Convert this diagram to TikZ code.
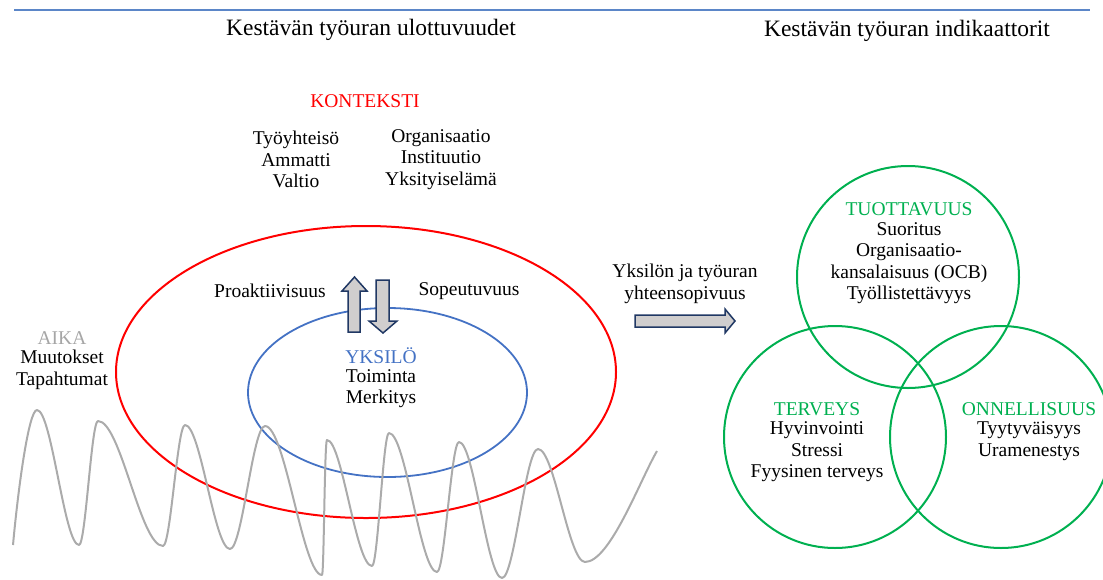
\documentclass[tikz,border=0pt]{standalone}
\usepackage{fontspec}
\setmainfont{Liberation Serif}
\definecolor{kred}{HTML}{FF0000}
\definecolor{kblue}{HTML}{4472C4}
\definecolor{kgreen}{HTML}{00B050}
\definecolor{kgray}{HTML}{ABABAB}
\definecolor{agray}{HTML}{A6A6A6}
\definecolor{afill}{HTML}{D0CECE}
\definecolor{aline}{HTML}{203864}
\definecolor{topline}{HTML}{5B86C8}
\tikzset{
  txt/.style={font=\fontsize{19.5}{21.5}\selectfont, align=center, inner sep=0pt},
  ttl/.style={font=\fontsize{23.5}{26}\selectfont, align=center, inner sep=0pt},
  blockarrow/.style={fill=afill, draw=aline, line width=1.5pt, line join=miter},
  ring/.style={line width=2pt},
}
\begin{document}
\begin{tikzpicture}[x=1pt,y=-1pt]
\useasboundingbox (0,0) rectangle (1103,579);
% top rule
\draw[topline, line width=1.2pt] (14,10) coordinate (tl) -- (1090,10) coordinate (tr);
% titles
\node[ttl] (t1) at (371,30) {Kestävän työuran ulottuvuudet};
\node[ttl] (t2) at (907,31) {Kestävän työuran indikaattorit};
% context
\node[txt, text=kred] (konteksti) at (365,101) {KONTEKSTI};
\node[txt] (ctxA) at (296,159.5) {Työyhteisö\\Ammatti\\Valtio};
\node[txt] (ctxB) at (441,159.5) {Organisaatio\\Instituutio\\Yksityiselämä};
% ellipses
\draw[kred, line width=2pt] (366,372) ellipse [x radius=250, y radius=146];
\draw[kblue, line width=1.8pt] (387.5,392.5) ellipse [x radius=139.5, y radius=84.5];
% wave
\draw[kgray, line width=2pt, line join=round]
  (13,545) .. controls (18,490) and (28.6,410) .. (37,410)
  .. controls (51.7,410) and (64.3,545) .. (79,545)
  .. controls (85.65,545) and (91.35,421) .. (98,421)
  .. controls (120.75,421) and (140.25,546) .. (163,546)
  .. controls (170.7,546) and (177.3,425) .. (185,425)
  .. controls (200.75,425) and (214.25,549) .. (230,549)
  .. controls (242.25,549) and (252.75,426) .. (265,426)
  .. controls (285.3,426) and (302.7,575) .. (322,575)
  .. controls (324,575) and (324.5,440) .. (327,440)
  .. controls (342.1,440) and (355.9,566) .. (372,566)
  .. controls (377.95,566) and (383.05,433) .. (389,433)
  .. controls (405.8,433) and (420.2,572) .. (437,572)
  .. controls (444.7,572) and (451.3,442) .. (459,442)
  .. controls (474.05,442) and (486.95,578) .. (502,578)
  .. controls (514.6,578) and (525.4,449) .. (538,449)
  .. controls (554.45,449) and (568.55,562) .. (585,562)
  .. controls (610,562) and (640,480) .. (657,451);
% time
\node[txt, text=agray] (aika) at (62,338) {AIKA};
\node[txt] (aikaB) at (62,370) {Muutokset\\Tapahtumat};
% individual
\node[txt] (proakt) at (270,291) {Proaktiivisuus};
\node[txt] (sopeut) at (469,291) {Sopeutuvuus};
\node[txt, text=kblue] (yksilo) at (381,356) {YKSILÖ};
\node[txt] (yksiloB) at (381,388.5) {Toiminta\\Merkitys};
% block arrows
\draw[blockarrow] (354.5,277) -- (367,291) -- (360,291) -- (360,332) -- (348,332) -- (348,291) -- (342,291) -- cycle;
\draw[blockarrow] (376,280) -- (389,280) -- (389,321) -- (397,321) -- (383,333) -- (369,321) -- (376,321) -- cycle;
\node[txt] (fit) at (685,284) {Yksilön ja työuran\\yhteensopivuus};
\draw[blockarrow] (635,315) -- (725,315) -- (725,309) -- (735,321) -- (725,333) -- (725,327) -- (635,327) -- cycle;
% indicator circles
\begin{scope}
\clip (0,0) rectangle (1103,579);
\draw[kgreen, ring] (908,277) circle [radius=111];
\draw[kgreen, ring] (835,437) circle [radius=111];
\draw[kgreen, ring] (1001,437) circle [radius=111];
\end{scope}
\node[txt, text=kgreen] (tuott) at (909,209) {TUOTTAVUUS};
\node[txt] (tuottB) at (909,263) {Suoritus\\Organisaatio-\\kansalaisuus (OCB)\\Työllistettävyys};
\node[txt, text=kgreen] (terv) at (817,409) {TERVEYS};
\node[txt] (tervB) at (817,452) {Hyvinvointi\\Stressi\\Fyysinen terveys};
\node[txt, text=kgreen] (onn) at (1029,409) {ONNELLISUUS};
\node[txt] (onnB) at (1029,441) {Tyytyväisyys\\Uramenestys};
\end{tikzpicture}
\end{document}
